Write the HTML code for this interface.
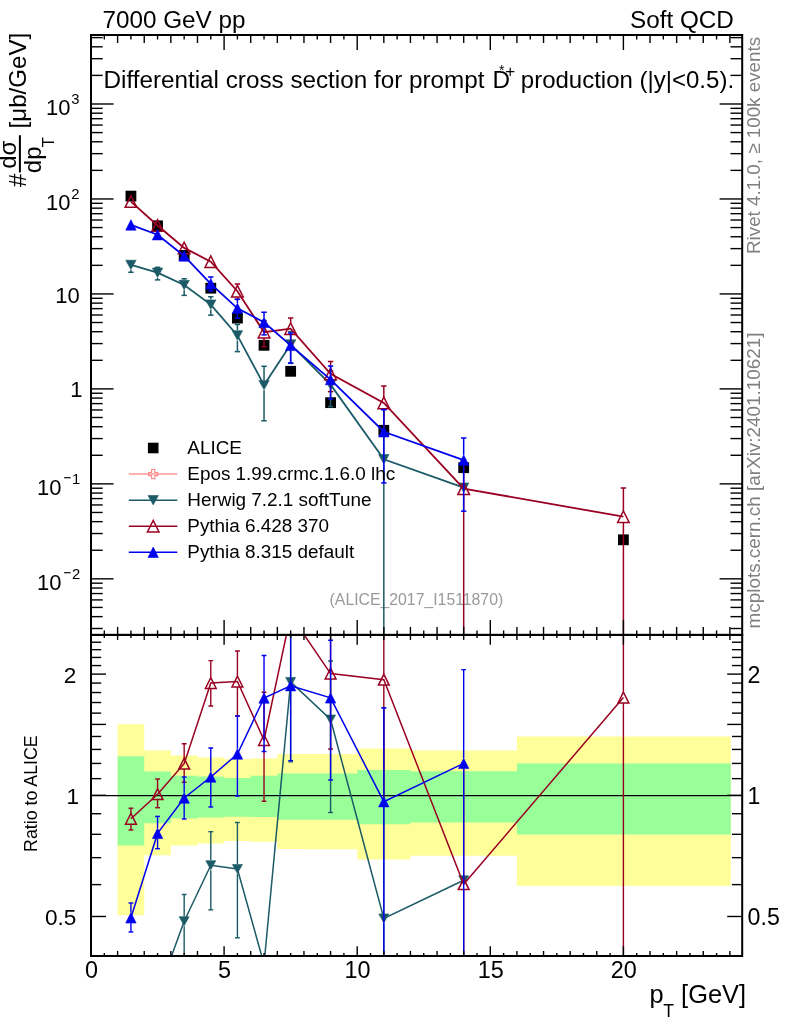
<!DOCTYPE html>
<html><head><meta charset="utf-8"><title>D*+ production plot</title>
<style>html,body{margin:0;padding:0;background:#fff}svg{display:block}</style></head><body>
<svg width="786" height="1024" viewBox="0 0 786 1024" font-family='"Liberation Sans", Arial, Helvetica, sans-serif'>
<defs><clipPath id="cm"><rect x="91.0" y="35.0" width="651.2" height="599.9"/></clipPath><clipPath id="cr"><rect x="91.0" y="634.9" width="651.2" height="321.1"/></clipPath></defs>
<rect width="786" height="1024" fill="#fff"/>
<polygon fill="#ffff99" points="117.62,724.20 144.24,724.20 144.24,750.60 170.86,750.60 170.86,755.40 197.48,755.40 197.48,757.50 224.10,757.50 224.10,759.30 250.72,759.30 250.72,758.40 277.34,758.40 277.34,754.00 303.96,754.00 303.96,754.00 357.20,754.00 357.20,748.60 410.44,748.60 410.44,750.40 516.92,750.40 516.92,736.40 730.78,736.40 730.78,885.70 516.92,885.70 516.92,855.80 410.44,855.80 410.44,859.50 357.20,859.50 357.20,849.20 303.96,849.20 303.96,849.00 277.34,849.00 277.34,841.80 250.72,841.80 250.72,841.00 224.10,841.00 224.10,843.40 197.48,843.40 197.48,845.40 170.86,845.40 170.86,855.20 144.24,855.20 144.24,915.20 117.62,915.20"/>
<polygon fill="#99ff99" points="117.62,756.20 144.24,756.20 144.24,771.40 170.86,771.40 170.86,775.70 197.48,775.70 197.48,776.60 224.10,776.60 224.10,777.90 250.72,777.90 250.72,775.70 277.34,775.70 277.34,773.50 303.96,773.50 303.96,773.50 357.20,773.50 357.20,769.90 410.44,769.90 410.44,771.30 516.92,771.30 516.92,763.40 730.78,763.40 730.78,834.60 516.92,834.60 516.92,822.40 410.44,822.40 410.44,824.30 357.20,824.30 357.20,819.80 303.96,819.80 303.96,819.80 277.34,819.80 277.34,817.00 250.72,817.00 250.72,816.80 224.10,816.80 224.10,817.60 197.48,817.60 197.48,818.60 170.86,818.60 170.86,823.20 144.24,823.20 144.24,845.40 117.62,845.40"/>
<line x1="91.00" y1="795.60" x2="742.20" y2="795.60" stroke="#000" stroke-width="1.3" />
<g clip-path="url(#cr)">
<line x1="184.17" y1="916.20" x2="184.17" y2="894.50" stroke="#1b5a66" stroke-width="1.4" />
<line x1="181.77" y1="894.50" x2="186.57" y2="894.50" stroke="#1b5a66" stroke-width="1.4" />
<line x1="184.17" y1="926.20" x2="184.17" y2="965.00" stroke="#1b5a66" stroke-width="1.4" />
<line x1="181.77" y1="965.00" x2="186.57" y2="965.00" stroke="#1b5a66" stroke-width="1.4" />
<line x1="210.79" y1="860.20" x2="210.79" y2="831.70" stroke="#1b5a66" stroke-width="1.4" />
<line x1="208.39" y1="831.70" x2="213.19" y2="831.70" stroke="#1b5a66" stroke-width="1.4" />
<line x1="210.79" y1="870.20" x2="210.79" y2="909.80" stroke="#1b5a66" stroke-width="1.4" />
<line x1="208.39" y1="909.80" x2="213.19" y2="909.80" stroke="#1b5a66" stroke-width="1.4" />
<line x1="237.41" y1="864.00" x2="237.41" y2="822.50" stroke="#1b5a66" stroke-width="1.4" />
<line x1="235.01" y1="822.50" x2="239.81" y2="822.50" stroke="#1b5a66" stroke-width="1.4" />
<line x1="237.41" y1="874.00" x2="237.41" y2="937.80" stroke="#1b5a66" stroke-width="1.4" />
<line x1="235.01" y1="937.80" x2="239.81" y2="937.80" stroke="#1b5a66" stroke-width="1.4" />
<line x1="290.65" y1="676.90" x2="290.65" y2="627.22" stroke="#1b5a66" stroke-width="1.4" />
<line x1="288.25" y1="627.22" x2="293.05" y2="627.22" stroke="#1b5a66" stroke-width="1.4" />
<line x1="290.65" y1="686.90" x2="290.65" y2="761.90" stroke="#1b5a66" stroke-width="1.4" />
<line x1="288.25" y1="761.90" x2="293.05" y2="761.90" stroke="#1b5a66" stroke-width="1.4" />
<line x1="330.58" y1="714.50" x2="330.58" y2="661.00" stroke="#1b5a66" stroke-width="1.4" />
<line x1="328.18" y1="661.00" x2="332.98" y2="661.00" stroke="#1b5a66" stroke-width="1.4" />
<line x1="330.58" y1="724.50" x2="330.58" y2="812.50" stroke="#1b5a66" stroke-width="1.4" />
<line x1="328.18" y1="812.50" x2="332.98" y2="812.50" stroke="#1b5a66" stroke-width="1.4" />
<line x1="383.82" y1="913.40" x2="383.82" y2="707.85" stroke="#1b5a66" stroke-width="1.4" />
<line x1="381.42" y1="707.85" x2="386.22" y2="707.85" stroke="#1b5a66" stroke-width="1.4" />
<line x1="383.82" y1="923.40" x2="383.82" y2="5000.00" stroke="#1b5a66" stroke-width="1.4" />
<line x1="381.42" y1="5000.00" x2="386.22" y2="5000.00" stroke="#1b5a66" stroke-width="1.4" />
<polyline fill="none" stroke="#1b5a66" stroke-width="1.5" points="130.93,1087.26 157.55,994.42 184.17,921.20 210.79,865.20 237.41,869.00 264.03,964.32 290.65,681.90 330.58,719.50 383.82,918.40 463.68,880.30"/>
<polygon points="125.93,1082.76 135.93,1082.76 130.93,1091.76" fill="#1b5a66" stroke="#1b5a66" stroke-width="0.6"/>
<polygon points="152.55,989.92 162.55,989.92 157.55,998.92" fill="#1b5a66" stroke="#1b5a66" stroke-width="0.6"/>
<polygon points="179.17,916.70 189.17,916.70 184.17,925.70" fill="#1b5a66" stroke="#1b5a66" stroke-width="0.6"/>
<polygon points="205.79,860.70 215.79,860.70 210.79,869.70" fill="#1b5a66" stroke="#1b5a66" stroke-width="0.6"/>
<polygon points="232.41,864.50 242.41,864.50 237.41,873.50" fill="#1b5a66" stroke="#1b5a66" stroke-width="0.6"/>
<polygon points="259.03,959.82 269.03,959.82 264.03,968.82" fill="#1b5a66" stroke="#1b5a66" stroke-width="0.6"/>
<polygon points="285.65,677.40 295.65,677.40 290.65,686.40" fill="#1b5a66" stroke="#1b5a66" stroke-width="0.6"/>
<polygon points="325.58,715.00 335.58,715.00 330.58,724.00" fill="#1b5a66" stroke="#1b5a66" stroke-width="0.6"/>
<polygon points="378.82,913.90 388.82,913.90 383.82,922.90" fill="#1b5a66" stroke="#1b5a66" stroke-width="0.6"/>
<polygon points="458.68,875.80 468.68,875.80 463.68,884.80" fill="#1b5a66" stroke="#1b5a66" stroke-width="0.6"/>
</g>
<g clip-path="url(#cr)">
<line x1="130.93" y1="813.40" x2="130.93" y2="808.20" stroke="#990022" stroke-width="1.4" />
<line x1="128.53" y1="808.20" x2="133.33" y2="808.20" stroke="#990022" stroke-width="1.4" />
<line x1="130.93" y1="824.20" x2="130.93" y2="830.00" stroke="#990022" stroke-width="1.4" />
<line x1="128.53" y1="830.00" x2="133.33" y2="830.00" stroke="#990022" stroke-width="1.4" />
<line x1="157.55" y1="788.80" x2="157.55" y2="779.00" stroke="#990022" stroke-width="1.4" />
<line x1="155.15" y1="779.00" x2="159.95" y2="779.00" stroke="#990022" stroke-width="1.4" />
<line x1="157.55" y1="799.60" x2="157.55" y2="807.70" stroke="#990022" stroke-width="1.4" />
<line x1="155.15" y1="807.70" x2="159.95" y2="807.70" stroke="#990022" stroke-width="1.4" />
<line x1="184.17" y1="758.30" x2="184.17" y2="743.80" stroke="#990022" stroke-width="1.4" />
<line x1="181.77" y1="743.80" x2="186.57" y2="743.80" stroke="#990022" stroke-width="1.4" />
<line x1="184.17" y1="769.10" x2="184.17" y2="782.30" stroke="#990022" stroke-width="1.4" />
<line x1="181.77" y1="782.30" x2="186.57" y2="782.30" stroke="#990022" stroke-width="1.4" />
<line x1="210.79" y1="677.60" x2="210.79" y2="660.60" stroke="#990022" stroke-width="1.4" />
<line x1="208.39" y1="660.60" x2="213.19" y2="660.60" stroke="#990022" stroke-width="1.4" />
<line x1="210.79" y1="688.40" x2="210.79" y2="706.00" stroke="#990022" stroke-width="1.4" />
<line x1="208.39" y1="706.00" x2="213.19" y2="706.00" stroke="#990022" stroke-width="1.4" />
<line x1="237.41" y1="676.10" x2="237.41" y2="651.00" stroke="#990022" stroke-width="1.4" />
<line x1="235.01" y1="651.00" x2="239.81" y2="651.00" stroke="#990022" stroke-width="1.4" />
<line x1="237.41" y1="686.90" x2="237.41" y2="716.00" stroke="#990022" stroke-width="1.4" />
<line x1="235.01" y1="716.00" x2="239.81" y2="716.00" stroke="#990022" stroke-width="1.4" />
<line x1="264.03" y1="734.60" x2="264.03" y2="692.30" stroke="#990022" stroke-width="1.4" />
<line x1="261.63" y1="692.30" x2="266.43" y2="692.30" stroke="#990022" stroke-width="1.4" />
<line x1="264.03" y1="745.40" x2="264.03" y2="801.30" stroke="#990022" stroke-width="1.4" />
<line x1="261.63" y1="801.30" x2="266.43" y2="801.30" stroke="#990022" stroke-width="1.4" />
<line x1="330.58" y1="668.20" x2="330.58" y2="621.09" stroke="#990022" stroke-width="1.4" />
<line x1="328.18" y1="621.09" x2="332.98" y2="621.09" stroke="#990022" stroke-width="1.4" />
<line x1="330.58" y1="679.00" x2="330.58" y2="749.00" stroke="#990022" stroke-width="1.4" />
<line x1="328.18" y1="749.00" x2="332.98" y2="749.00" stroke="#990022" stroke-width="1.4" />
<line x1="383.82" y1="674.30" x2="383.82" y2="607.62" stroke="#990022" stroke-width="1.4" />
<line x1="381.42" y1="607.62" x2="386.22" y2="607.62" stroke="#990022" stroke-width="1.4" />
<line x1="383.82" y1="685.10" x2="383.82" y2="804.50" stroke="#990022" stroke-width="1.4" />
<line x1="381.42" y1="804.50" x2="386.22" y2="804.50" stroke="#990022" stroke-width="1.4" />
<line x1="463.68" y1="878.80" x2="463.68" y2="764.32" stroke="#990022" stroke-width="1.4" />
<line x1="461.28" y1="764.32" x2="466.08" y2="764.32" stroke="#990022" stroke-width="1.4" />
<line x1="463.68" y1="889.60" x2="463.68" y2="1618.51" stroke="#990022" stroke-width="1.4" />
<line x1="461.28" y1="1618.51" x2="466.08" y2="1618.51" stroke="#990022" stroke-width="1.4" />
<line x1="623.40" y1="692.20" x2="623.40" y2="575.97" stroke="#990022" stroke-width="1.4" />
<line x1="621.00" y1="575.97" x2="625.80" y2="575.97" stroke="#990022" stroke-width="1.4" />
<line x1="623.40" y1="703.00" x2="623.40" y2="5000.00" stroke="#990022" stroke-width="1.4" />
<line x1="621.00" y1="5000.00" x2="625.80" y2="5000.00" stroke="#990022" stroke-width="1.4" />
<polyline fill="none" stroke="#990022" stroke-width="1.5" points="130.93,818.80 157.55,794.20 184.17,763.70 210.79,683.00 237.41,681.50 264.03,740.00 290.65,615.01 330.58,673.60 383.82,679.70 463.68,884.20 623.40,697.60"/>
<polygon points="125.53,824.20 136.33,824.20 130.93,813.40" fill="none" stroke="#990022" stroke-width="1.5" stroke-linejoin="miter"/>
<polygon points="152.15,799.60 162.95,799.60 157.55,788.80" fill="none" stroke="#990022" stroke-width="1.5" stroke-linejoin="miter"/>
<polygon points="178.77,769.10 189.57,769.10 184.17,758.30" fill="none" stroke="#990022" stroke-width="1.5" stroke-linejoin="miter"/>
<polygon points="205.39,688.40 216.19,688.40 210.79,677.60" fill="none" stroke="#990022" stroke-width="1.5" stroke-linejoin="miter"/>
<polygon points="232.01,686.90 242.81,686.90 237.41,676.10" fill="none" stroke="#990022" stroke-width="1.5" stroke-linejoin="miter"/>
<polygon points="258.63,745.40 269.43,745.40 264.03,734.60" fill="none" stroke="#990022" stroke-width="1.5" stroke-linejoin="miter"/>
<polygon points="285.25,620.41 296.05,620.41 290.65,609.61" fill="none" stroke="#990022" stroke-width="1.5" stroke-linejoin="miter"/>
<polygon points="325.18,679.00 335.98,679.00 330.58,668.20" fill="none" stroke="#990022" stroke-width="1.5" stroke-linejoin="miter"/>
<polygon points="378.42,685.10 389.22,685.10 383.82,674.30" fill="none" stroke="#990022" stroke-width="1.5" stroke-linejoin="miter"/>
<polygon points="458.28,889.60 469.08,889.60 463.68,878.80" fill="none" stroke="#990022" stroke-width="1.5" stroke-linejoin="miter"/>
<polygon points="618.00,703.00 628.80,703.00 623.40,692.20" fill="none" stroke="#990022" stroke-width="1.5" stroke-linejoin="miter"/>
</g>
<g clip-path="url(#cr)">
<line x1="130.93" y1="912.60" x2="130.93" y2="903.00" stroke="#0000ee" stroke-width="1.4" />
<line x1="128.53" y1="903.00" x2="133.33" y2="903.00" stroke="#0000ee" stroke-width="1.4" />
<line x1="130.93" y1="923.00" x2="130.93" y2="932.00" stroke="#0000ee" stroke-width="1.4" />
<line x1="128.53" y1="932.00" x2="133.33" y2="932.00" stroke="#0000ee" stroke-width="1.4" />
<line x1="157.55" y1="828.20" x2="157.55" y2="816.40" stroke="#0000ee" stroke-width="1.4" />
<line x1="155.15" y1="816.40" x2="159.95" y2="816.40" stroke="#0000ee" stroke-width="1.4" />
<line x1="157.55" y1="838.60" x2="157.55" y2="848.70" stroke="#0000ee" stroke-width="1.4" />
<line x1="155.15" y1="848.70" x2="159.95" y2="848.70" stroke="#0000ee" stroke-width="1.4" />
<line x1="184.17" y1="792.80" x2="184.17" y2="777.00" stroke="#0000ee" stroke-width="1.4" />
<line x1="181.77" y1="777.00" x2="186.57" y2="777.00" stroke="#0000ee" stroke-width="1.4" />
<line x1="184.17" y1="803.20" x2="184.17" y2="819.00" stroke="#0000ee" stroke-width="1.4" />
<line x1="181.77" y1="819.00" x2="186.57" y2="819.00" stroke="#0000ee" stroke-width="1.4" />
<line x1="210.79" y1="771.80" x2="210.79" y2="748.00" stroke="#0000ee" stroke-width="1.4" />
<line x1="208.39" y1="748.00" x2="213.19" y2="748.00" stroke="#0000ee" stroke-width="1.4" />
<line x1="210.79" y1="782.20" x2="210.79" y2="807.00" stroke="#0000ee" stroke-width="1.4" />
<line x1="208.39" y1="807.00" x2="213.19" y2="807.00" stroke="#0000ee" stroke-width="1.4" />
<line x1="237.41" y1="748.80" x2="237.41" y2="716.00" stroke="#0000ee" stroke-width="1.4" />
<line x1="235.01" y1="716.00" x2="239.81" y2="716.00" stroke="#0000ee" stroke-width="1.4" />
<line x1="237.41" y1="759.20" x2="237.41" y2="796.00" stroke="#0000ee" stroke-width="1.4" />
<line x1="235.01" y1="796.00" x2="239.81" y2="796.00" stroke="#0000ee" stroke-width="1.4" />
<line x1="264.03" y1="692.80" x2="264.03" y2="655.50" stroke="#0000ee" stroke-width="1.4" />
<line x1="261.63" y1="655.50" x2="266.43" y2="655.50" stroke="#0000ee" stroke-width="1.4" />
<line x1="264.03" y1="703.20" x2="264.03" y2="751.50" stroke="#0000ee" stroke-width="1.4" />
<line x1="261.63" y1="751.50" x2="266.43" y2="751.50" stroke="#0000ee" stroke-width="1.4" />
<line x1="290.65" y1="680.50" x2="290.65" y2="633.43" stroke="#0000ee" stroke-width="1.4" />
<line x1="288.25" y1="633.43" x2="293.05" y2="633.43" stroke="#0000ee" stroke-width="1.4" />
<line x1="290.65" y1="690.90" x2="290.65" y2="760.60" stroke="#0000ee" stroke-width="1.4" />
<line x1="288.25" y1="760.60" x2="293.05" y2="760.60" stroke="#0000ee" stroke-width="1.4" />
<line x1="330.58" y1="692.70" x2="330.58" y2="640.30" stroke="#0000ee" stroke-width="1.4" />
<line x1="328.18" y1="640.30" x2="332.98" y2="640.30" stroke="#0000ee" stroke-width="1.4" />
<line x1="330.58" y1="703.10" x2="330.58" y2="780.00" stroke="#0000ee" stroke-width="1.4" />
<line x1="328.18" y1="780.00" x2="332.98" y2="780.00" stroke="#0000ee" stroke-width="1.4" />
<line x1="383.82" y1="796.50" x2="383.82" y2="707.80" stroke="#0000ee" stroke-width="1.4" />
<line x1="381.42" y1="707.80" x2="386.22" y2="707.80" stroke="#0000ee" stroke-width="1.4" />
<line x1="383.82" y1="806.90" x2="383.82" y2="1018.70" stroke="#0000ee" stroke-width="1.4" />
<line x1="381.42" y1="1018.70" x2="386.22" y2="1018.70" stroke="#0000ee" stroke-width="1.4" />
<line x1="463.68" y1="758.20" x2="463.68" y2="669.60" stroke="#0000ee" stroke-width="1.4" />
<line x1="461.28" y1="669.60" x2="466.08" y2="669.60" stroke="#0000ee" stroke-width="1.4" />
<line x1="463.68" y1="768.60" x2="463.68" y2="979.81" stroke="#0000ee" stroke-width="1.4" />
<line x1="461.28" y1="979.81" x2="466.08" y2="979.81" stroke="#0000ee" stroke-width="1.4" />
<polyline fill="none" stroke="#0000ee" stroke-width="1.5" points="130.93,917.80 157.55,833.40 184.17,798.00 210.79,777.00 237.41,754.00 264.03,698.00 290.65,685.70 330.58,697.90 383.82,801.70 463.68,763.40"/>
<polygon points="125.73,923.00 136.13,923.00 130.93,912.60" fill="#0000ee" stroke="#0000ee" stroke-width="0.6" stroke-linejoin="miter"/>
<polygon points="152.35,838.60 162.75,838.60 157.55,828.20" fill="#0000ee" stroke="#0000ee" stroke-width="0.6" stroke-linejoin="miter"/>
<polygon points="178.97,803.20 189.37,803.20 184.17,792.80" fill="#0000ee" stroke="#0000ee" stroke-width="0.6" stroke-linejoin="miter"/>
<polygon points="205.59,782.20 215.99,782.20 210.79,771.80" fill="#0000ee" stroke="#0000ee" stroke-width="0.6" stroke-linejoin="miter"/>
<polygon points="232.21,759.20 242.61,759.20 237.41,748.80" fill="#0000ee" stroke="#0000ee" stroke-width="0.6" stroke-linejoin="miter"/>
<polygon points="258.83,703.20 269.23,703.20 264.03,692.80" fill="#0000ee" stroke="#0000ee" stroke-width="0.6" stroke-linejoin="miter"/>
<polygon points="285.45,690.90 295.85,690.90 290.65,680.50" fill="#0000ee" stroke="#0000ee" stroke-width="0.6" stroke-linejoin="miter"/>
<polygon points="325.38,703.10 335.78,703.10 330.58,692.70" fill="#0000ee" stroke="#0000ee" stroke-width="0.6" stroke-linejoin="miter"/>
<polygon points="378.62,806.90 389.02,806.90 383.82,796.50" fill="#0000ee" stroke="#0000ee" stroke-width="0.6" stroke-linejoin="miter"/>
<polygon points="458.48,768.60 468.88,768.60 463.68,758.20" fill="#0000ee" stroke="#0000ee" stroke-width="0.6" stroke-linejoin="miter"/>
</g>
<text x="416.40" y="604.60" font-size="15.8" text-anchor="middle" fill="#999" >(ALICE_2017_I1511870)</text>
<rect x="125.53" y="190.70" width="10.80" height="10.80" fill="#000"/>
<rect x="152.15" y="220.40" width="10.80" height="10.80" fill="#000"/>
<rect x="178.77" y="250.00" width="10.80" height="10.80" fill="#000"/>
<rect x="205.39" y="282.80" width="10.80" height="10.80" fill="#000"/>
<rect x="232.01" y="312.70" width="10.80" height="10.80" fill="#000"/>
<rect x="258.63" y="339.90" width="10.80" height="10.80" fill="#000"/>
<rect x="285.25" y="365.90" width="10.80" height="10.80" fill="#000"/>
<rect x="325.18" y="397.25" width="10.80" height="10.80" fill="#000"/>
<rect x="378.42" y="424.90" width="10.80" height="10.80" fill="#000"/>
<rect x="458.28" y="462.30" width="10.80" height="10.80" fill="#000"/>
<rect x="618.00" y="534.40" width="10.80" height="10.80" fill="#000"/>
<g clip-path="url(#cm)">
<line x1="130.93" y1="270.10" x2="130.93" y2="272.30" stroke="#1b5a66" stroke-width="1.5" />
<line x1="128.23" y1="272.30" x2="133.63" y2="272.30" stroke="#1b5a66" stroke-width="1.5" />
<line x1="157.55" y1="267.50" x2="157.55" y2="267.30" stroke="#1b5a66" stroke-width="1.5" />
<line x1="154.85" y1="267.30" x2="160.25" y2="267.30" stroke="#1b5a66" stroke-width="1.5" />
<line x1="157.55" y1="277.90" x2="157.55" y2="279.90" stroke="#1b5a66" stroke-width="1.5" />
<line x1="154.85" y1="279.90" x2="160.25" y2="279.90" stroke="#1b5a66" stroke-width="1.5" />
<line x1="184.17" y1="279.83" x2="184.17" y2="278.73" stroke="#1b5a66" stroke-width="1.5" />
<line x1="181.47" y1="278.73" x2="186.87" y2="278.73" stroke="#1b5a66" stroke-width="1.5" />
<line x1="184.17" y1="290.23" x2="184.17" y2="295.36" stroke="#1b5a66" stroke-width="1.5" />
<line x1="181.47" y1="295.36" x2="186.87" y2="295.36" stroke="#1b5a66" stroke-width="1.5" />
<line x1="210.79" y1="299.42" x2="210.79" y2="296.72" stroke="#1b5a66" stroke-width="1.5" />
<line x1="208.09" y1="296.72" x2="213.49" y2="296.72" stroke="#1b5a66" stroke-width="1.5" />
<line x1="210.79" y1="309.82" x2="210.79" y2="315.14" stroke="#1b5a66" stroke-width="1.5" />
<line x1="208.09" y1="315.14" x2="213.49" y2="315.14" stroke="#1b5a66" stroke-width="1.5" />
<line x1="237.41" y1="330.21" x2="237.41" y2="324.45" stroke="#1b5a66" stroke-width="1.5" />
<line x1="234.71" y1="324.45" x2="240.11" y2="324.45" stroke="#1b5a66" stroke-width="1.5" />
<line x1="237.41" y1="340.61" x2="237.41" y2="351.64" stroke="#1b5a66" stroke-width="1.5" />
<line x1="234.71" y1="351.64" x2="240.11" y2="351.64" stroke="#1b5a66" stroke-width="1.5" />
<line x1="264.03" y1="379.90" x2="264.03" y2="366.30" stroke="#1b5a66" stroke-width="1.5" />
<line x1="261.33" y1="366.30" x2="266.73" y2="366.30" stroke="#1b5a66" stroke-width="1.5" />
<line x1="264.03" y1="390.30" x2="264.03" y2="420.80" stroke="#1b5a66" stroke-width="1.5" />
<line x1="261.33" y1="420.80" x2="266.73" y2="420.80" stroke="#1b5a66" stroke-width="1.5" />
<line x1="290.65" y1="339.28" x2="290.65" y2="331.58" stroke="#1b5a66" stroke-width="1.5" />
<line x1="287.95" y1="331.58" x2="293.35" y2="331.58" stroke="#1b5a66" stroke-width="1.5" />
<line x1="290.65" y1="349.68" x2="290.65" y2="363.35" stroke="#1b5a66" stroke-width="1.5" />
<line x1="287.95" y1="363.35" x2="293.35" y2="363.35" stroke="#1b5a66" stroke-width="1.5" />
<line x1="330.58" y1="379.50" x2="330.58" y2="370.90" stroke="#1b5a66" stroke-width="1.5" />
<line x1="327.88" y1="370.90" x2="333.28" y2="370.90" stroke="#1b5a66" stroke-width="1.5" />
<line x1="330.58" y1="389.90" x2="330.58" y2="406.64" stroke="#1b5a66" stroke-width="1.5" />
<line x1="327.88" y1="406.64" x2="333.28" y2="406.64" stroke="#1b5a66" stroke-width="1.5" />
<line x1="383.82" y1="454.07" x2="383.82" y2="409.60" stroke="#1b5a66" stroke-width="1.5" />
<line x1="381.12" y1="409.60" x2="386.52" y2="409.60" stroke="#1b5a66" stroke-width="1.5" />
<line x1="383.82" y1="464.47" x2="383.82" y2="5000.00" stroke="#1b5a66" stroke-width="1.5" />
<line x1="381.12" y1="5000.00" x2="386.52" y2="5000.00" stroke="#1b5a66" stroke-width="1.5" />
<polyline fill="none" stroke="#1b5a66" stroke-width="1.8" points="130.93,264.90 157.55,272.70 184.17,285.03 210.79,304.62 237.41,335.41 264.03,385.10 290.65,344.48 330.58,384.70 383.82,459.27 463.68,487.68"/>
<polygon points="125.73,260.20 136.13,260.20 130.93,269.60" fill="#1b5a66" stroke="#1b5a66" stroke-width="0.6"/>
<polygon points="152.35,268.00 162.75,268.00 157.55,277.40" fill="#1b5a66" stroke="#1b5a66" stroke-width="0.6"/>
<polygon points="178.97,280.33 189.37,280.33 184.17,289.73" fill="#1b5a66" stroke="#1b5a66" stroke-width="0.6"/>
<polygon points="205.59,299.92 215.99,299.92 210.79,309.32" fill="#1b5a66" stroke="#1b5a66" stroke-width="0.6"/>
<polygon points="232.21,330.71 242.61,330.71 237.41,340.11" fill="#1b5a66" stroke="#1b5a66" stroke-width="0.6"/>
<polygon points="258.83,380.40 269.23,380.40 264.03,389.80" fill="#1b5a66" stroke="#1b5a66" stroke-width="0.6"/>
<polygon points="285.45,339.78 295.85,339.78 290.65,349.18" fill="#1b5a66" stroke="#1b5a66" stroke-width="0.6"/>
<polygon points="325.38,380.00 335.78,380.00 330.58,389.40" fill="#1b5a66" stroke="#1b5a66" stroke-width="0.6"/>
<polygon points="378.62,454.57 389.02,454.57 383.82,463.97" fill="#1b5a66" stroke="#1b5a66" stroke-width="0.6"/>
<polygon points="458.48,482.98 468.88,482.98 463.68,492.38" fill="#1b5a66" stroke="#1b5a66" stroke-width="0.6"/>
</g>
<g clip-path="url(#cm)">
<line x1="237.41" y1="285.38" x2="237.41" y2="283.99" stroke="#990022" stroke-width="1.5" />
<line x1="234.71" y1="283.99" x2="240.11" y2="283.99" stroke="#990022" stroke-width="1.5" />
<line x1="237.41" y1="296.98" x2="237.41" y2="299.32" stroke="#990022" stroke-width="1.5" />
<line x1="234.71" y1="299.32" x2="240.11" y2="299.32" stroke="#990022" stroke-width="1.5" />
<line x1="264.03" y1="326.38" x2="264.03" y2="320.93" stroke="#990022" stroke-width="1.5" />
<line x1="261.33" y1="320.93" x2="266.73" y2="320.93" stroke="#990022" stroke-width="1.5" />
<line x1="264.03" y1="337.98" x2="264.03" y2="346.64" stroke="#990022" stroke-width="1.5" />
<line x1="261.33" y1="346.64" x2="266.73" y2="346.64" stroke="#990022" stroke-width="1.5" />
<line x1="290.65" y1="322.90" x2="290.65" y2="318.00" stroke="#990022" stroke-width="1.5" />
<line x1="287.95" y1="318.00" x2="293.35" y2="318.00" stroke="#990022" stroke-width="1.5" />
<line x1="290.65" y1="334.50" x2="290.65" y2="343.19" stroke="#990022" stroke-width="1.5" />
<line x1="287.95" y1="343.19" x2="293.35" y2="343.19" stroke="#990022" stroke-width="1.5" />
<line x1="330.58" y1="368.07" x2="330.58" y2="361.48" stroke="#990022" stroke-width="1.5" />
<line x1="327.88" y1="361.48" x2="333.28" y2="361.48" stroke="#990022" stroke-width="1.5" />
<line x1="330.58" y1="379.67" x2="330.58" y2="391.66" stroke="#990022" stroke-width="1.5" />
<line x1="327.88" y1="391.66" x2="333.28" y2="391.66" stroke="#990022" stroke-width="1.5" />
<line x1="383.82" y1="397.16" x2="383.82" y2="385.96" stroke="#990022" stroke-width="1.5" />
<line x1="381.12" y1="385.96" x2="386.52" y2="385.96" stroke="#990022" stroke-width="1.5" />
<line x1="383.82" y1="408.76" x2="383.82" y2="432.40" stroke="#990022" stroke-width="1.5" />
<line x1="381.12" y1="432.40" x2="386.52" y2="432.40" stroke="#990022" stroke-width="1.5" />
<line x1="463.68" y1="482.80" x2="463.68" y2="460.32" stroke="#990022" stroke-width="1.5" />
<line x1="460.98" y1="460.32" x2="466.38" y2="460.32" stroke="#990022" stroke-width="1.5" />
<line x1="463.68" y1="494.40" x2="463.68" y2="661.82" stroke="#990022" stroke-width="1.5" />
<line x1="460.98" y1="661.82" x2="466.38" y2="661.82" stroke="#990022" stroke-width="1.5" />
<line x1="623.40" y1="510.88" x2="623.40" y2="487.99" stroke="#990022" stroke-width="1.5" />
<line x1="620.70" y1="487.99" x2="626.10" y2="487.99" stroke="#990022" stroke-width="1.5" />
<line x1="623.40" y1="522.48" x2="623.40" y2="5000.00" stroke="#990022" stroke-width="1.5" />
<line x1="620.70" y1="5000.00" x2="626.10" y2="5000.00" stroke="#990022" stroke-width="1.5" />
<polyline fill="none" stroke="#990022" stroke-width="1.8" points="130.93,201.57 157.55,225.47 184.17,247.88 210.79,261.64 237.41,291.18 264.03,332.18 290.65,328.70 330.58,373.87 383.82,402.96 463.68,488.60 623.40,516.68"/>
<polygon points="125.13,207.37 136.73,207.37 130.93,195.77" fill="none" stroke="#990022" stroke-width="1.5" stroke-linejoin="miter"/>
<polygon points="151.75,231.27 163.35,231.27 157.55,219.67" fill="none" stroke="#990022" stroke-width="1.5" stroke-linejoin="miter"/>
<polygon points="178.37,253.68 189.97,253.68 184.17,242.08" fill="none" stroke="#990022" stroke-width="1.5" stroke-linejoin="miter"/>
<polygon points="204.99,267.44 216.59,267.44 210.79,255.84" fill="none" stroke="#990022" stroke-width="1.5" stroke-linejoin="miter"/>
<polygon points="231.61,296.98 243.21,296.98 237.41,285.38" fill="none" stroke="#990022" stroke-width="1.5" stroke-linejoin="miter"/>
<polygon points="258.23,337.98 269.83,337.98 264.03,326.38" fill="none" stroke="#990022" stroke-width="1.5" stroke-linejoin="miter"/>
<polygon points="284.85,334.50 296.45,334.50 290.65,322.90" fill="none" stroke="#990022" stroke-width="1.5" stroke-linejoin="miter"/>
<polygon points="324.78,379.67 336.38,379.67 330.58,368.07" fill="none" stroke="#990022" stroke-width="1.5" stroke-linejoin="miter"/>
<polygon points="378.02,408.76 389.62,408.76 383.82,397.16" fill="none" stroke="#990022" stroke-width="1.5" stroke-linejoin="miter"/>
<polygon points="457.88,494.40 469.48,494.40 463.68,482.80" fill="none" stroke="#990022" stroke-width="1.5" stroke-linejoin="miter"/>
<polygon points="617.60,522.48 629.20,522.48 623.40,510.88" fill="none" stroke="#990022" stroke-width="1.5" stroke-linejoin="miter"/>
</g>
<g clip-path="url(#cm)">
<line x1="210.79" y1="278.61" x2="210.79" y2="276.97" stroke="#0000ee" stroke-width="1.5" />
<line x1="208.09" y1="276.97" x2="213.49" y2="276.97" stroke="#0000ee" stroke-width="1.5" />
<line x1="210.79" y1="289.01" x2="210.79" y2="290.89" stroke="#0000ee" stroke-width="1.5" />
<line x1="208.09" y1="290.89" x2="213.49" y2="290.89" stroke="#0000ee" stroke-width="1.5" />
<line x1="237.41" y1="303.09" x2="237.41" y2="299.32" stroke="#0000ee" stroke-width="1.5" />
<line x1="234.71" y1="299.32" x2="240.11" y2="299.32" stroke="#0000ee" stroke-width="1.5" />
<line x1="237.41" y1="313.49" x2="237.41" y2="318.19" stroke="#0000ee" stroke-width="1.5" />
<line x1="234.71" y1="318.19" x2="240.11" y2="318.19" stroke="#0000ee" stroke-width="1.5" />
<line x1="264.03" y1="317.08" x2="264.03" y2="312.25" stroke="#0000ee" stroke-width="1.5" />
<line x1="261.33" y1="312.25" x2="266.73" y2="312.25" stroke="#0000ee" stroke-width="1.5" />
<line x1="264.03" y1="327.48" x2="264.03" y2="334.90" stroke="#0000ee" stroke-width="1.5" />
<line x1="261.33" y1="334.90" x2="266.73" y2="334.90" stroke="#0000ee" stroke-width="1.5" />
<line x1="290.65" y1="340.18" x2="290.65" y2="333.05" stroke="#0000ee" stroke-width="1.5" />
<line x1="287.95" y1="333.05" x2="293.35" y2="333.05" stroke="#0000ee" stroke-width="1.5" />
<line x1="290.65" y1="350.58" x2="290.65" y2="363.04" stroke="#0000ee" stroke-width="1.5" />
<line x1="287.95" y1="363.04" x2="293.35" y2="363.04" stroke="#0000ee" stroke-width="1.5" />
<line x1="330.58" y1="374.40" x2="330.58" y2="366.02" stroke="#0000ee" stroke-width="1.5" />
<line x1="327.88" y1="366.02" x2="333.28" y2="366.02" stroke="#0000ee" stroke-width="1.5" />
<line x1="330.58" y1="384.80" x2="330.58" y2="398.97" stroke="#0000ee" stroke-width="1.5" />
<line x1="327.88" y1="398.97" x2="333.28" y2="398.97" stroke="#0000ee" stroke-width="1.5" />
<line x1="383.82" y1="426.54" x2="383.82" y2="409.59" stroke="#0000ee" stroke-width="1.5" />
<line x1="381.12" y1="409.59" x2="386.52" y2="409.59" stroke="#0000ee" stroke-width="1.5" />
<line x1="383.82" y1="436.94" x2="383.82" y2="482.93" stroke="#0000ee" stroke-width="1.5" />
<line x1="381.12" y1="482.93" x2="386.52" y2="482.93" stroke="#0000ee" stroke-width="1.5" />
<line x1="463.68" y1="454.90" x2="463.68" y2="437.98" stroke="#0000ee" stroke-width="1.5" />
<line x1="460.98" y1="437.98" x2="466.38" y2="437.98" stroke="#0000ee" stroke-width="1.5" />
<line x1="463.68" y1="465.30" x2="463.68" y2="511.15" stroke="#0000ee" stroke-width="1.5" />
<line x1="460.98" y1="511.15" x2="466.38" y2="511.15" stroke="#0000ee" stroke-width="1.5" />
<polyline fill="none" stroke="#0000ee" stroke-width="1.8" points="130.93,224.93 157.55,234.72 184.17,255.97 210.79,283.81 237.41,308.29 264.03,322.28 290.65,345.38 330.58,379.60 383.82,431.74 463.68,460.10"/>
<polygon points="125.73,230.13 136.13,230.13 130.93,219.73" fill="#0000ee" stroke="#0000ee" stroke-width="0.6" stroke-linejoin="miter"/>
<polygon points="152.35,239.92 162.75,239.92 157.55,229.52" fill="#0000ee" stroke="#0000ee" stroke-width="0.6" stroke-linejoin="miter"/>
<polygon points="178.97,261.17 189.37,261.17 184.17,250.77" fill="#0000ee" stroke="#0000ee" stroke-width="0.6" stroke-linejoin="miter"/>
<polygon points="205.59,289.01 215.99,289.01 210.79,278.61" fill="#0000ee" stroke="#0000ee" stroke-width="0.6" stroke-linejoin="miter"/>
<polygon points="232.21,313.49 242.61,313.49 237.41,303.09" fill="#0000ee" stroke="#0000ee" stroke-width="0.6" stroke-linejoin="miter"/>
<polygon points="258.83,327.48 269.23,327.48 264.03,317.08" fill="#0000ee" stroke="#0000ee" stroke-width="0.6" stroke-linejoin="miter"/>
<polygon points="285.45,350.58 295.85,350.58 290.65,340.18" fill="#0000ee" stroke="#0000ee" stroke-width="0.6" stroke-linejoin="miter"/>
<polygon points="325.38,384.80 335.78,384.80 330.58,374.40" fill="#0000ee" stroke="#0000ee" stroke-width="0.6" stroke-linejoin="miter"/>
<polygon points="378.62,436.94 389.02,436.94 383.82,426.54" fill="#0000ee" stroke="#0000ee" stroke-width="0.6" stroke-linejoin="miter"/>
<polygon points="458.48,465.30 468.88,465.30 463.68,454.90" fill="#0000ee" stroke="#0000ee" stroke-width="0.6" stroke-linejoin="miter"/>
</g>
<rect x="91.0" y="35.0" width="651.2" height="599.9" fill="none" stroke="#000" stroke-width="2"/>
<rect x="91.0" y="634.9" width="651.2" height="321.1" fill="none" stroke="#000" stroke-width="2"/>
<line x1="104.31" y1="35.00" x2="104.31" y2="39.50" stroke="#000" stroke-width="1.4" />
<line x1="104.31" y1="634.90" x2="104.31" y2="630.40" stroke="#000" stroke-width="1.4" />
<line x1="104.31" y1="634.90" x2="104.31" y2="637.90" stroke="#000" stroke-width="1.4" />
<line x1="104.31" y1="956.00" x2="104.31" y2="953.00" stroke="#000" stroke-width="1.4" />
<line x1="117.62" y1="35.00" x2="117.62" y2="43.00" stroke="#000" stroke-width="1.4" />
<line x1="117.62" y1="634.90" x2="117.62" y2="626.90" stroke="#000" stroke-width="1.4" />
<line x1="117.62" y1="634.90" x2="117.62" y2="639.90" stroke="#000" stroke-width="1.4" />
<line x1="117.62" y1="956.00" x2="117.62" y2="951.00" stroke="#000" stroke-width="1.4" />
<line x1="130.93" y1="35.00" x2="130.93" y2="39.50" stroke="#000" stroke-width="1.4" />
<line x1="130.93" y1="634.90" x2="130.93" y2="630.40" stroke="#000" stroke-width="1.4" />
<line x1="130.93" y1="634.90" x2="130.93" y2="637.90" stroke="#000" stroke-width="1.4" />
<line x1="130.93" y1="956.00" x2="130.93" y2="953.00" stroke="#000" stroke-width="1.4" />
<line x1="144.24" y1="35.00" x2="144.24" y2="43.00" stroke="#000" stroke-width="1.4" />
<line x1="144.24" y1="634.90" x2="144.24" y2="626.90" stroke="#000" stroke-width="1.4" />
<line x1="144.24" y1="634.90" x2="144.24" y2="639.90" stroke="#000" stroke-width="1.4" />
<line x1="144.24" y1="956.00" x2="144.24" y2="951.00" stroke="#000" stroke-width="1.4" />
<line x1="157.55" y1="35.00" x2="157.55" y2="39.50" stroke="#000" stroke-width="1.4" />
<line x1="157.55" y1="634.90" x2="157.55" y2="630.40" stroke="#000" stroke-width="1.4" />
<line x1="157.55" y1="634.90" x2="157.55" y2="637.90" stroke="#000" stroke-width="1.4" />
<line x1="157.55" y1="956.00" x2="157.55" y2="953.00" stroke="#000" stroke-width="1.4" />
<line x1="170.86" y1="35.00" x2="170.86" y2="43.00" stroke="#000" stroke-width="1.4" />
<line x1="170.86" y1="634.90" x2="170.86" y2="626.90" stroke="#000" stroke-width="1.4" />
<line x1="170.86" y1="634.90" x2="170.86" y2="639.90" stroke="#000" stroke-width="1.4" />
<line x1="170.86" y1="956.00" x2="170.86" y2="951.00" stroke="#000" stroke-width="1.4" />
<line x1="184.17" y1="35.00" x2="184.17" y2="39.50" stroke="#000" stroke-width="1.4" />
<line x1="184.17" y1="634.90" x2="184.17" y2="630.40" stroke="#000" stroke-width="1.4" />
<line x1="184.17" y1="634.90" x2="184.17" y2="637.90" stroke="#000" stroke-width="1.4" />
<line x1="184.17" y1="956.00" x2="184.17" y2="953.00" stroke="#000" stroke-width="1.4" />
<line x1="197.48" y1="35.00" x2="197.48" y2="43.00" stroke="#000" stroke-width="1.4" />
<line x1="197.48" y1="634.90" x2="197.48" y2="626.90" stroke="#000" stroke-width="1.4" />
<line x1="197.48" y1="634.90" x2="197.48" y2="639.90" stroke="#000" stroke-width="1.4" />
<line x1="197.48" y1="956.00" x2="197.48" y2="951.00" stroke="#000" stroke-width="1.4" />
<line x1="210.79" y1="35.00" x2="210.79" y2="39.50" stroke="#000" stroke-width="1.4" />
<line x1="210.79" y1="634.90" x2="210.79" y2="630.40" stroke="#000" stroke-width="1.4" />
<line x1="210.79" y1="634.90" x2="210.79" y2="637.90" stroke="#000" stroke-width="1.4" />
<line x1="210.79" y1="956.00" x2="210.79" y2="953.00" stroke="#000" stroke-width="1.4" />
<line x1="224.10" y1="35.00" x2="224.10" y2="50.00" stroke="#000" stroke-width="1.4" />
<line x1="224.10" y1="634.90" x2="224.10" y2="619.90" stroke="#000" stroke-width="1.4" />
<line x1="224.10" y1="634.90" x2="224.10" y2="644.70" stroke="#000" stroke-width="1.4" />
<line x1="224.10" y1="956.00" x2="224.10" y2="946.20" stroke="#000" stroke-width="1.4" />
<line x1="237.41" y1="35.00" x2="237.41" y2="39.50" stroke="#000" stroke-width="1.4" />
<line x1="237.41" y1="634.90" x2="237.41" y2="630.40" stroke="#000" stroke-width="1.4" />
<line x1="237.41" y1="634.90" x2="237.41" y2="637.90" stroke="#000" stroke-width="1.4" />
<line x1="237.41" y1="956.00" x2="237.41" y2="953.00" stroke="#000" stroke-width="1.4" />
<line x1="250.72" y1="35.00" x2="250.72" y2="43.00" stroke="#000" stroke-width="1.4" />
<line x1="250.72" y1="634.90" x2="250.72" y2="626.90" stroke="#000" stroke-width="1.4" />
<line x1="250.72" y1="634.90" x2="250.72" y2="639.90" stroke="#000" stroke-width="1.4" />
<line x1="250.72" y1="956.00" x2="250.72" y2="951.00" stroke="#000" stroke-width="1.4" />
<line x1="264.03" y1="35.00" x2="264.03" y2="39.50" stroke="#000" stroke-width="1.4" />
<line x1="264.03" y1="634.90" x2="264.03" y2="630.40" stroke="#000" stroke-width="1.4" />
<line x1="264.03" y1="634.90" x2="264.03" y2="637.90" stroke="#000" stroke-width="1.4" />
<line x1="264.03" y1="956.00" x2="264.03" y2="953.00" stroke="#000" stroke-width="1.4" />
<line x1="277.34" y1="35.00" x2="277.34" y2="43.00" stroke="#000" stroke-width="1.4" />
<line x1="277.34" y1="634.90" x2="277.34" y2="626.90" stroke="#000" stroke-width="1.4" />
<line x1="277.34" y1="634.90" x2="277.34" y2="639.90" stroke="#000" stroke-width="1.4" />
<line x1="277.34" y1="956.00" x2="277.34" y2="951.00" stroke="#000" stroke-width="1.4" />
<line x1="290.65" y1="35.00" x2="290.65" y2="39.50" stroke="#000" stroke-width="1.4" />
<line x1="290.65" y1="634.90" x2="290.65" y2="630.40" stroke="#000" stroke-width="1.4" />
<line x1="290.65" y1="634.90" x2="290.65" y2="637.90" stroke="#000" stroke-width="1.4" />
<line x1="290.65" y1="956.00" x2="290.65" y2="953.00" stroke="#000" stroke-width="1.4" />
<line x1="303.96" y1="35.00" x2="303.96" y2="43.00" stroke="#000" stroke-width="1.4" />
<line x1="303.96" y1="634.90" x2="303.96" y2="626.90" stroke="#000" stroke-width="1.4" />
<line x1="303.96" y1="634.90" x2="303.96" y2="639.90" stroke="#000" stroke-width="1.4" />
<line x1="303.96" y1="956.00" x2="303.96" y2="951.00" stroke="#000" stroke-width="1.4" />
<line x1="317.27" y1="35.00" x2="317.27" y2="39.50" stroke="#000" stroke-width="1.4" />
<line x1="317.27" y1="634.90" x2="317.27" y2="630.40" stroke="#000" stroke-width="1.4" />
<line x1="317.27" y1="634.90" x2="317.27" y2="637.90" stroke="#000" stroke-width="1.4" />
<line x1="317.27" y1="956.00" x2="317.27" y2="953.00" stroke="#000" stroke-width="1.4" />
<line x1="330.58" y1="35.00" x2="330.58" y2="43.00" stroke="#000" stroke-width="1.4" />
<line x1="330.58" y1="634.90" x2="330.58" y2="626.90" stroke="#000" stroke-width="1.4" />
<line x1="330.58" y1="634.90" x2="330.58" y2="639.90" stroke="#000" stroke-width="1.4" />
<line x1="330.58" y1="956.00" x2="330.58" y2="951.00" stroke="#000" stroke-width="1.4" />
<line x1="343.89" y1="35.00" x2="343.89" y2="39.50" stroke="#000" stroke-width="1.4" />
<line x1="343.89" y1="634.90" x2="343.89" y2="630.40" stroke="#000" stroke-width="1.4" />
<line x1="343.89" y1="634.90" x2="343.89" y2="637.90" stroke="#000" stroke-width="1.4" />
<line x1="343.89" y1="956.00" x2="343.89" y2="953.00" stroke="#000" stroke-width="1.4" />
<line x1="357.20" y1="35.00" x2="357.20" y2="50.00" stroke="#000" stroke-width="1.4" />
<line x1="357.20" y1="634.90" x2="357.20" y2="619.90" stroke="#000" stroke-width="1.4" />
<line x1="357.20" y1="634.90" x2="357.20" y2="644.70" stroke="#000" stroke-width="1.4" />
<line x1="357.20" y1="956.00" x2="357.20" y2="946.20" stroke="#000" stroke-width="1.4" />
<line x1="370.51" y1="35.00" x2="370.51" y2="39.50" stroke="#000" stroke-width="1.4" />
<line x1="370.51" y1="634.90" x2="370.51" y2="630.40" stroke="#000" stroke-width="1.4" />
<line x1="370.51" y1="634.90" x2="370.51" y2="637.90" stroke="#000" stroke-width="1.4" />
<line x1="370.51" y1="956.00" x2="370.51" y2="953.00" stroke="#000" stroke-width="1.4" />
<line x1="383.82" y1="35.00" x2="383.82" y2="43.00" stroke="#000" stroke-width="1.4" />
<line x1="383.82" y1="634.90" x2="383.82" y2="626.90" stroke="#000" stroke-width="1.4" />
<line x1="383.82" y1="634.90" x2="383.82" y2="639.90" stroke="#000" stroke-width="1.4" />
<line x1="383.82" y1="956.00" x2="383.82" y2="951.00" stroke="#000" stroke-width="1.4" />
<line x1="397.13" y1="35.00" x2="397.13" y2="39.50" stroke="#000" stroke-width="1.4" />
<line x1="397.13" y1="634.90" x2="397.13" y2="630.40" stroke="#000" stroke-width="1.4" />
<line x1="397.13" y1="634.90" x2="397.13" y2="637.90" stroke="#000" stroke-width="1.4" />
<line x1="397.13" y1="956.00" x2="397.13" y2="953.00" stroke="#000" stroke-width="1.4" />
<line x1="410.44" y1="35.00" x2="410.44" y2="43.00" stroke="#000" stroke-width="1.4" />
<line x1="410.44" y1="634.90" x2="410.44" y2="626.90" stroke="#000" stroke-width="1.4" />
<line x1="410.44" y1="634.90" x2="410.44" y2="639.90" stroke="#000" stroke-width="1.4" />
<line x1="410.44" y1="956.00" x2="410.44" y2="951.00" stroke="#000" stroke-width="1.4" />
<line x1="423.75" y1="35.00" x2="423.75" y2="39.50" stroke="#000" stroke-width="1.4" />
<line x1="423.75" y1="634.90" x2="423.75" y2="630.40" stroke="#000" stroke-width="1.4" />
<line x1="423.75" y1="634.90" x2="423.75" y2="637.90" stroke="#000" stroke-width="1.4" />
<line x1="423.75" y1="956.00" x2="423.75" y2="953.00" stroke="#000" stroke-width="1.4" />
<line x1="437.06" y1="35.00" x2="437.06" y2="43.00" stroke="#000" stroke-width="1.4" />
<line x1="437.06" y1="634.90" x2="437.06" y2="626.90" stroke="#000" stroke-width="1.4" />
<line x1="437.06" y1="634.90" x2="437.06" y2="639.90" stroke="#000" stroke-width="1.4" />
<line x1="437.06" y1="956.00" x2="437.06" y2="951.00" stroke="#000" stroke-width="1.4" />
<line x1="450.37" y1="35.00" x2="450.37" y2="39.50" stroke="#000" stroke-width="1.4" />
<line x1="450.37" y1="634.90" x2="450.37" y2="630.40" stroke="#000" stroke-width="1.4" />
<line x1="450.37" y1="634.90" x2="450.37" y2="637.90" stroke="#000" stroke-width="1.4" />
<line x1="450.37" y1="956.00" x2="450.37" y2="953.00" stroke="#000" stroke-width="1.4" />
<line x1="463.68" y1="35.00" x2="463.68" y2="43.00" stroke="#000" stroke-width="1.4" />
<line x1="463.68" y1="634.90" x2="463.68" y2="626.90" stroke="#000" stroke-width="1.4" />
<line x1="463.68" y1="634.90" x2="463.68" y2="639.90" stroke="#000" stroke-width="1.4" />
<line x1="463.68" y1="956.00" x2="463.68" y2="951.00" stroke="#000" stroke-width="1.4" />
<line x1="476.99" y1="35.00" x2="476.99" y2="39.50" stroke="#000" stroke-width="1.4" />
<line x1="476.99" y1="634.90" x2="476.99" y2="630.40" stroke="#000" stroke-width="1.4" />
<line x1="476.99" y1="634.90" x2="476.99" y2="637.90" stroke="#000" stroke-width="1.4" />
<line x1="476.99" y1="956.00" x2="476.99" y2="953.00" stroke="#000" stroke-width="1.4" />
<line x1="490.30" y1="35.00" x2="490.30" y2="50.00" stroke="#000" stroke-width="1.4" />
<line x1="490.30" y1="634.90" x2="490.30" y2="619.90" stroke="#000" stroke-width="1.4" />
<line x1="490.30" y1="634.90" x2="490.30" y2="644.70" stroke="#000" stroke-width="1.4" />
<line x1="490.30" y1="956.00" x2="490.30" y2="946.20" stroke="#000" stroke-width="1.4" />
<line x1="503.61" y1="35.00" x2="503.61" y2="39.50" stroke="#000" stroke-width="1.4" />
<line x1="503.61" y1="634.90" x2="503.61" y2="630.40" stroke="#000" stroke-width="1.4" />
<line x1="503.61" y1="634.90" x2="503.61" y2="637.90" stroke="#000" stroke-width="1.4" />
<line x1="503.61" y1="956.00" x2="503.61" y2="953.00" stroke="#000" stroke-width="1.4" />
<line x1="516.92" y1="35.00" x2="516.92" y2="43.00" stroke="#000" stroke-width="1.4" />
<line x1="516.92" y1="634.90" x2="516.92" y2="626.90" stroke="#000" stroke-width="1.4" />
<line x1="516.92" y1="634.90" x2="516.92" y2="639.90" stroke="#000" stroke-width="1.4" />
<line x1="516.92" y1="956.00" x2="516.92" y2="951.00" stroke="#000" stroke-width="1.4" />
<line x1="530.23" y1="35.00" x2="530.23" y2="39.50" stroke="#000" stroke-width="1.4" />
<line x1="530.23" y1="634.90" x2="530.23" y2="630.40" stroke="#000" stroke-width="1.4" />
<line x1="530.23" y1="634.90" x2="530.23" y2="637.90" stroke="#000" stroke-width="1.4" />
<line x1="530.23" y1="956.00" x2="530.23" y2="953.00" stroke="#000" stroke-width="1.4" />
<line x1="543.54" y1="35.00" x2="543.54" y2="43.00" stroke="#000" stroke-width="1.4" />
<line x1="543.54" y1="634.90" x2="543.54" y2="626.90" stroke="#000" stroke-width="1.4" />
<line x1="543.54" y1="634.90" x2="543.54" y2="639.90" stroke="#000" stroke-width="1.4" />
<line x1="543.54" y1="956.00" x2="543.54" y2="951.00" stroke="#000" stroke-width="1.4" />
<line x1="556.85" y1="35.00" x2="556.85" y2="39.50" stroke="#000" stroke-width="1.4" />
<line x1="556.85" y1="634.90" x2="556.85" y2="630.40" stroke="#000" stroke-width="1.4" />
<line x1="556.85" y1="634.90" x2="556.85" y2="637.90" stroke="#000" stroke-width="1.4" />
<line x1="556.85" y1="956.00" x2="556.85" y2="953.00" stroke="#000" stroke-width="1.4" />
<line x1="570.16" y1="35.00" x2="570.16" y2="43.00" stroke="#000" stroke-width="1.4" />
<line x1="570.16" y1="634.90" x2="570.16" y2="626.90" stroke="#000" stroke-width="1.4" />
<line x1="570.16" y1="634.90" x2="570.16" y2="639.90" stroke="#000" stroke-width="1.4" />
<line x1="570.16" y1="956.00" x2="570.16" y2="951.00" stroke="#000" stroke-width="1.4" />
<line x1="583.47" y1="35.00" x2="583.47" y2="39.50" stroke="#000" stroke-width="1.4" />
<line x1="583.47" y1="634.90" x2="583.47" y2="630.40" stroke="#000" stroke-width="1.4" />
<line x1="583.47" y1="634.90" x2="583.47" y2="637.90" stroke="#000" stroke-width="1.4" />
<line x1="583.47" y1="956.00" x2="583.47" y2="953.00" stroke="#000" stroke-width="1.4" />
<line x1="596.78" y1="35.00" x2="596.78" y2="43.00" stroke="#000" stroke-width="1.4" />
<line x1="596.78" y1="634.90" x2="596.78" y2="626.90" stroke="#000" stroke-width="1.4" />
<line x1="596.78" y1="634.90" x2="596.78" y2="639.90" stroke="#000" stroke-width="1.4" />
<line x1="596.78" y1="956.00" x2="596.78" y2="951.00" stroke="#000" stroke-width="1.4" />
<line x1="610.09" y1="35.00" x2="610.09" y2="39.50" stroke="#000" stroke-width="1.4" />
<line x1="610.09" y1="634.90" x2="610.09" y2="630.40" stroke="#000" stroke-width="1.4" />
<line x1="610.09" y1="634.90" x2="610.09" y2="637.90" stroke="#000" stroke-width="1.4" />
<line x1="610.09" y1="956.00" x2="610.09" y2="953.00" stroke="#000" stroke-width="1.4" />
<line x1="623.40" y1="35.00" x2="623.40" y2="50.00" stroke="#000" stroke-width="1.4" />
<line x1="623.40" y1="634.90" x2="623.40" y2="619.90" stroke="#000" stroke-width="1.4" />
<line x1="623.40" y1="634.90" x2="623.40" y2="644.70" stroke="#000" stroke-width="1.4" />
<line x1="623.40" y1="956.00" x2="623.40" y2="946.20" stroke="#000" stroke-width="1.4" />
<line x1="636.71" y1="35.00" x2="636.71" y2="39.50" stroke="#000" stroke-width="1.4" />
<line x1="636.71" y1="634.90" x2="636.71" y2="630.40" stroke="#000" stroke-width="1.4" />
<line x1="636.71" y1="634.90" x2="636.71" y2="637.90" stroke="#000" stroke-width="1.4" />
<line x1="636.71" y1="956.00" x2="636.71" y2="953.00" stroke="#000" stroke-width="1.4" />
<line x1="650.02" y1="35.00" x2="650.02" y2="43.00" stroke="#000" stroke-width="1.4" />
<line x1="650.02" y1="634.90" x2="650.02" y2="626.90" stroke="#000" stroke-width="1.4" />
<line x1="650.02" y1="634.90" x2="650.02" y2="639.90" stroke="#000" stroke-width="1.4" />
<line x1="650.02" y1="956.00" x2="650.02" y2="951.00" stroke="#000" stroke-width="1.4" />
<line x1="663.33" y1="35.00" x2="663.33" y2="39.50" stroke="#000" stroke-width="1.4" />
<line x1="663.33" y1="634.90" x2="663.33" y2="630.40" stroke="#000" stroke-width="1.4" />
<line x1="663.33" y1="634.90" x2="663.33" y2="637.90" stroke="#000" stroke-width="1.4" />
<line x1="663.33" y1="956.00" x2="663.33" y2="953.00" stroke="#000" stroke-width="1.4" />
<line x1="676.64" y1="35.00" x2="676.64" y2="43.00" stroke="#000" stroke-width="1.4" />
<line x1="676.64" y1="634.90" x2="676.64" y2="626.90" stroke="#000" stroke-width="1.4" />
<line x1="676.64" y1="634.90" x2="676.64" y2="639.90" stroke="#000" stroke-width="1.4" />
<line x1="676.64" y1="956.00" x2="676.64" y2="951.00" stroke="#000" stroke-width="1.4" />
<line x1="689.95" y1="35.00" x2="689.95" y2="39.50" stroke="#000" stroke-width="1.4" />
<line x1="689.95" y1="634.90" x2="689.95" y2="630.40" stroke="#000" stroke-width="1.4" />
<line x1="689.95" y1="634.90" x2="689.95" y2="637.90" stroke="#000" stroke-width="1.4" />
<line x1="689.95" y1="956.00" x2="689.95" y2="953.00" stroke="#000" stroke-width="1.4" />
<line x1="703.26" y1="35.00" x2="703.26" y2="43.00" stroke="#000" stroke-width="1.4" />
<line x1="703.26" y1="634.90" x2="703.26" y2="626.90" stroke="#000" stroke-width="1.4" />
<line x1="703.26" y1="634.90" x2="703.26" y2="639.90" stroke="#000" stroke-width="1.4" />
<line x1="703.26" y1="956.00" x2="703.26" y2="951.00" stroke="#000" stroke-width="1.4" />
<line x1="716.57" y1="35.00" x2="716.57" y2="39.50" stroke="#000" stroke-width="1.4" />
<line x1="716.57" y1="634.90" x2="716.57" y2="630.40" stroke="#000" stroke-width="1.4" />
<line x1="716.57" y1="634.90" x2="716.57" y2="637.90" stroke="#000" stroke-width="1.4" />
<line x1="716.57" y1="956.00" x2="716.57" y2="953.00" stroke="#000" stroke-width="1.4" />
<line x1="729.88" y1="35.00" x2="729.88" y2="43.00" stroke="#000" stroke-width="1.4" />
<line x1="729.88" y1="634.90" x2="729.88" y2="626.90" stroke="#000" stroke-width="1.4" />
<line x1="729.88" y1="634.90" x2="729.88" y2="639.90" stroke="#000" stroke-width="1.4" />
<line x1="729.88" y1="956.00" x2="729.88" y2="951.00" stroke="#000" stroke-width="1.4" />
<line x1="91.00" y1="628.50" x2="102.70" y2="628.50" stroke="#000" stroke-width="1.4" />
<line x1="742.20" y1="628.50" x2="730.50" y2="628.50" stroke="#000" stroke-width="1.4" />
<line x1="91.00" y1="616.63" x2="102.70" y2="616.63" stroke="#000" stroke-width="1.4" />
<line x1="742.20" y1="616.63" x2="730.50" y2="616.63" stroke="#000" stroke-width="1.4" />
<line x1="91.00" y1="607.43" x2="102.70" y2="607.43" stroke="#000" stroke-width="1.4" />
<line x1="742.20" y1="607.43" x2="730.50" y2="607.43" stroke="#000" stroke-width="1.4" />
<line x1="91.00" y1="599.91" x2="102.70" y2="599.91" stroke="#000" stroke-width="1.4" />
<line x1="742.20" y1="599.91" x2="730.50" y2="599.91" stroke="#000" stroke-width="1.4" />
<line x1="91.00" y1="593.55" x2="102.70" y2="593.55" stroke="#000" stroke-width="1.4" />
<line x1="742.20" y1="593.55" x2="730.50" y2="593.55" stroke="#000" stroke-width="1.4" />
<line x1="91.00" y1="588.04" x2="102.70" y2="588.04" stroke="#000" stroke-width="1.4" />
<line x1="742.20" y1="588.04" x2="730.50" y2="588.04" stroke="#000" stroke-width="1.4" />
<line x1="91.00" y1="583.19" x2="102.70" y2="583.19" stroke="#000" stroke-width="1.4" />
<line x1="742.20" y1="583.19" x2="730.50" y2="583.19" stroke="#000" stroke-width="1.4" />
<line x1="91.00" y1="578.84" x2="113.60" y2="578.84" stroke="#000" stroke-width="1.4" />
<line x1="742.20" y1="578.84" x2="719.60" y2="578.84" stroke="#000" stroke-width="1.4" />
<line x1="91.00" y1="550.25" x2="102.70" y2="550.25" stroke="#000" stroke-width="1.4" />
<line x1="742.20" y1="550.25" x2="730.50" y2="550.25" stroke="#000" stroke-width="1.4" />
<line x1="91.00" y1="533.53" x2="102.70" y2="533.53" stroke="#000" stroke-width="1.4" />
<line x1="742.20" y1="533.53" x2="730.50" y2="533.53" stroke="#000" stroke-width="1.4" />
<line x1="91.00" y1="521.66" x2="102.70" y2="521.66" stroke="#000" stroke-width="1.4" />
<line x1="742.20" y1="521.66" x2="730.50" y2="521.66" stroke="#000" stroke-width="1.4" />
<line x1="91.00" y1="512.46" x2="102.70" y2="512.46" stroke="#000" stroke-width="1.4" />
<line x1="742.20" y1="512.46" x2="730.50" y2="512.46" stroke="#000" stroke-width="1.4" />
<line x1="91.00" y1="504.94" x2="102.70" y2="504.94" stroke="#000" stroke-width="1.4" />
<line x1="742.20" y1="504.94" x2="730.50" y2="504.94" stroke="#000" stroke-width="1.4" />
<line x1="91.00" y1="498.58" x2="102.70" y2="498.58" stroke="#000" stroke-width="1.4" />
<line x1="742.20" y1="498.58" x2="730.50" y2="498.58" stroke="#000" stroke-width="1.4" />
<line x1="91.00" y1="493.07" x2="102.70" y2="493.07" stroke="#000" stroke-width="1.4" />
<line x1="742.20" y1="493.07" x2="730.50" y2="493.07" stroke="#000" stroke-width="1.4" />
<line x1="91.00" y1="488.22" x2="102.70" y2="488.22" stroke="#000" stroke-width="1.4" />
<line x1="742.20" y1="488.22" x2="730.50" y2="488.22" stroke="#000" stroke-width="1.4" />
<line x1="91.00" y1="483.87" x2="113.60" y2="483.87" stroke="#000" stroke-width="1.4" />
<line x1="742.20" y1="483.87" x2="719.60" y2="483.87" stroke="#000" stroke-width="1.4" />
<line x1="91.00" y1="455.28" x2="102.70" y2="455.28" stroke="#000" stroke-width="1.4" />
<line x1="742.20" y1="455.28" x2="730.50" y2="455.28" stroke="#000" stroke-width="1.4" />
<line x1="91.00" y1="438.56" x2="102.70" y2="438.56" stroke="#000" stroke-width="1.4" />
<line x1="742.20" y1="438.56" x2="730.50" y2="438.56" stroke="#000" stroke-width="1.4" />
<line x1="91.00" y1="426.69" x2="102.70" y2="426.69" stroke="#000" stroke-width="1.4" />
<line x1="742.20" y1="426.69" x2="730.50" y2="426.69" stroke="#000" stroke-width="1.4" />
<line x1="91.00" y1="417.49" x2="102.70" y2="417.49" stroke="#000" stroke-width="1.4" />
<line x1="742.20" y1="417.49" x2="730.50" y2="417.49" stroke="#000" stroke-width="1.4" />
<line x1="91.00" y1="409.97" x2="102.70" y2="409.97" stroke="#000" stroke-width="1.4" />
<line x1="742.20" y1="409.97" x2="730.50" y2="409.97" stroke="#000" stroke-width="1.4" />
<line x1="91.00" y1="403.61" x2="102.70" y2="403.61" stroke="#000" stroke-width="1.4" />
<line x1="742.20" y1="403.61" x2="730.50" y2="403.61" stroke="#000" stroke-width="1.4" />
<line x1="91.00" y1="398.10" x2="102.70" y2="398.10" stroke="#000" stroke-width="1.4" />
<line x1="742.20" y1="398.10" x2="730.50" y2="398.10" stroke="#000" stroke-width="1.4" />
<line x1="91.00" y1="393.25" x2="102.70" y2="393.25" stroke="#000" stroke-width="1.4" />
<line x1="742.20" y1="393.25" x2="730.50" y2="393.25" stroke="#000" stroke-width="1.4" />
<line x1="91.00" y1="388.90" x2="113.60" y2="388.90" stroke="#000" stroke-width="1.4" />
<line x1="742.20" y1="388.90" x2="719.60" y2="388.90" stroke="#000" stroke-width="1.4" />
<line x1="91.00" y1="360.31" x2="102.70" y2="360.31" stroke="#000" stroke-width="1.4" />
<line x1="742.20" y1="360.31" x2="730.50" y2="360.31" stroke="#000" stroke-width="1.4" />
<line x1="91.00" y1="343.59" x2="102.70" y2="343.59" stroke="#000" stroke-width="1.4" />
<line x1="742.20" y1="343.59" x2="730.50" y2="343.59" stroke="#000" stroke-width="1.4" />
<line x1="91.00" y1="331.72" x2="102.70" y2="331.72" stroke="#000" stroke-width="1.4" />
<line x1="742.20" y1="331.72" x2="730.50" y2="331.72" stroke="#000" stroke-width="1.4" />
<line x1="91.00" y1="322.52" x2="102.70" y2="322.52" stroke="#000" stroke-width="1.4" />
<line x1="742.20" y1="322.52" x2="730.50" y2="322.52" stroke="#000" stroke-width="1.4" />
<line x1="91.00" y1="315.00" x2="102.70" y2="315.00" stroke="#000" stroke-width="1.4" />
<line x1="742.20" y1="315.00" x2="730.50" y2="315.00" stroke="#000" stroke-width="1.4" />
<line x1="91.00" y1="308.64" x2="102.70" y2="308.64" stroke="#000" stroke-width="1.4" />
<line x1="742.20" y1="308.64" x2="730.50" y2="308.64" stroke="#000" stroke-width="1.4" />
<line x1="91.00" y1="303.13" x2="102.70" y2="303.13" stroke="#000" stroke-width="1.4" />
<line x1="742.20" y1="303.13" x2="730.50" y2="303.13" stroke="#000" stroke-width="1.4" />
<line x1="91.00" y1="298.28" x2="102.70" y2="298.28" stroke="#000" stroke-width="1.4" />
<line x1="742.20" y1="298.28" x2="730.50" y2="298.28" stroke="#000" stroke-width="1.4" />
<line x1="91.00" y1="293.93" x2="113.60" y2="293.93" stroke="#000" stroke-width="1.4" />
<line x1="742.20" y1="293.93" x2="719.60" y2="293.93" stroke="#000" stroke-width="1.4" />
<line x1="91.00" y1="265.34" x2="102.70" y2="265.34" stroke="#000" stroke-width="1.4" />
<line x1="742.20" y1="265.34" x2="730.50" y2="265.34" stroke="#000" stroke-width="1.4" />
<line x1="91.00" y1="248.62" x2="102.70" y2="248.62" stroke="#000" stroke-width="1.4" />
<line x1="742.20" y1="248.62" x2="730.50" y2="248.62" stroke="#000" stroke-width="1.4" />
<line x1="91.00" y1="236.75" x2="102.70" y2="236.75" stroke="#000" stroke-width="1.4" />
<line x1="742.20" y1="236.75" x2="730.50" y2="236.75" stroke="#000" stroke-width="1.4" />
<line x1="91.00" y1="227.55" x2="102.70" y2="227.55" stroke="#000" stroke-width="1.4" />
<line x1="742.20" y1="227.55" x2="730.50" y2="227.55" stroke="#000" stroke-width="1.4" />
<line x1="91.00" y1="220.03" x2="102.70" y2="220.03" stroke="#000" stroke-width="1.4" />
<line x1="742.20" y1="220.03" x2="730.50" y2="220.03" stroke="#000" stroke-width="1.4" />
<line x1="91.00" y1="213.67" x2="102.70" y2="213.67" stroke="#000" stroke-width="1.4" />
<line x1="742.20" y1="213.67" x2="730.50" y2="213.67" stroke="#000" stroke-width="1.4" />
<line x1="91.00" y1="208.16" x2="102.70" y2="208.16" stroke="#000" stroke-width="1.4" />
<line x1="742.20" y1="208.16" x2="730.50" y2="208.16" stroke="#000" stroke-width="1.4" />
<line x1="91.00" y1="203.31" x2="102.70" y2="203.31" stroke="#000" stroke-width="1.4" />
<line x1="742.20" y1="203.31" x2="730.50" y2="203.31" stroke="#000" stroke-width="1.4" />
<line x1="91.00" y1="198.96" x2="113.60" y2="198.96" stroke="#000" stroke-width="1.4" />
<line x1="742.20" y1="198.96" x2="719.60" y2="198.96" stroke="#000" stroke-width="1.4" />
<line x1="91.00" y1="170.37" x2="102.70" y2="170.37" stroke="#000" stroke-width="1.4" />
<line x1="742.20" y1="170.37" x2="730.50" y2="170.37" stroke="#000" stroke-width="1.4" />
<line x1="91.00" y1="153.65" x2="102.70" y2="153.65" stroke="#000" stroke-width="1.4" />
<line x1="742.20" y1="153.65" x2="730.50" y2="153.65" stroke="#000" stroke-width="1.4" />
<line x1="91.00" y1="141.78" x2="102.70" y2="141.78" stroke="#000" stroke-width="1.4" />
<line x1="742.20" y1="141.78" x2="730.50" y2="141.78" stroke="#000" stroke-width="1.4" />
<line x1="91.00" y1="132.58" x2="102.70" y2="132.58" stroke="#000" stroke-width="1.4" />
<line x1="742.20" y1="132.58" x2="730.50" y2="132.58" stroke="#000" stroke-width="1.4" />
<line x1="91.00" y1="125.06" x2="102.70" y2="125.06" stroke="#000" stroke-width="1.4" />
<line x1="742.20" y1="125.06" x2="730.50" y2="125.06" stroke="#000" stroke-width="1.4" />
<line x1="91.00" y1="118.70" x2="102.70" y2="118.70" stroke="#000" stroke-width="1.4" />
<line x1="742.20" y1="118.70" x2="730.50" y2="118.70" stroke="#000" stroke-width="1.4" />
<line x1="91.00" y1="113.19" x2="102.70" y2="113.19" stroke="#000" stroke-width="1.4" />
<line x1="742.20" y1="113.19" x2="730.50" y2="113.19" stroke="#000" stroke-width="1.4" />
<line x1="91.00" y1="108.34" x2="102.70" y2="108.34" stroke="#000" stroke-width="1.4" />
<line x1="742.20" y1="108.34" x2="730.50" y2="108.34" stroke="#000" stroke-width="1.4" />
<line x1="91.00" y1="103.99" x2="113.60" y2="103.99" stroke="#000" stroke-width="1.4" />
<line x1="742.20" y1="103.99" x2="719.60" y2="103.99" stroke="#000" stroke-width="1.4" />
<line x1="91.00" y1="75.40" x2="102.70" y2="75.40" stroke="#000" stroke-width="1.4" />
<line x1="742.20" y1="75.40" x2="730.50" y2="75.40" stroke="#000" stroke-width="1.4" />
<line x1="91.00" y1="58.68" x2="102.70" y2="58.68" stroke="#000" stroke-width="1.4" />
<line x1="742.20" y1="58.68" x2="730.50" y2="58.68" stroke="#000" stroke-width="1.4" />
<line x1="91.00" y1="46.81" x2="102.70" y2="46.81" stroke="#000" stroke-width="1.4" />
<line x1="742.20" y1="46.81" x2="730.50" y2="46.81" stroke="#000" stroke-width="1.4" />
<line x1="91.00" y1="37.61" x2="102.70" y2="37.61" stroke="#000" stroke-width="1.4" />
<line x1="742.20" y1="37.61" x2="730.50" y2="37.61" stroke="#000" stroke-width="1.4" />
<line x1="91.00" y1="916.49" x2="106.00" y2="916.49" stroke="#000" stroke-width="1.4" />
<line x1="742.20" y1="916.49" x2="727.20" y2="916.49" stroke="#000" stroke-width="1.4" />
<line x1="91.00" y1="884.62" x2="101.20" y2="884.62" stroke="#000" stroke-width="1.4" />
<line x1="742.20" y1="884.62" x2="732.00" y2="884.62" stroke="#000" stroke-width="1.4" />
<line x1="91.00" y1="857.66" x2="101.20" y2="857.66" stroke="#000" stroke-width="1.4" />
<line x1="742.20" y1="857.66" x2="732.00" y2="857.66" stroke="#000" stroke-width="1.4" />
<line x1="91.00" y1="834.32" x2="101.20" y2="834.32" stroke="#000" stroke-width="1.4" />
<line x1="742.20" y1="834.32" x2="732.00" y2="834.32" stroke="#000" stroke-width="1.4" />
<line x1="91.00" y1="813.72" x2="101.20" y2="813.72" stroke="#000" stroke-width="1.4" />
<line x1="742.20" y1="813.72" x2="732.00" y2="813.72" stroke="#000" stroke-width="1.4" />
<line x1="91.00" y1="795.30" x2="106.00" y2="795.30" stroke="#000" stroke-width="1.4" />
<line x1="742.20" y1="795.30" x2="727.20" y2="795.30" stroke="#000" stroke-width="1.4" />
<line x1="91.00" y1="778.64" x2="101.20" y2="778.64" stroke="#000" stroke-width="1.4" />
<line x1="742.20" y1="778.64" x2="732.00" y2="778.64" stroke="#000" stroke-width="1.4" />
<line x1="91.00" y1="763.42" x2="101.20" y2="763.42" stroke="#000" stroke-width="1.4" />
<line x1="742.20" y1="763.42" x2="732.00" y2="763.42" stroke="#000" stroke-width="1.4" />
<line x1="91.00" y1="749.43" x2="101.20" y2="749.43" stroke="#000" stroke-width="1.4" />
<line x1="742.20" y1="749.43" x2="732.00" y2="749.43" stroke="#000" stroke-width="1.4" />
<line x1="91.00" y1="736.47" x2="101.20" y2="736.47" stroke="#000" stroke-width="1.4" />
<line x1="742.20" y1="736.47" x2="732.00" y2="736.47" stroke="#000" stroke-width="1.4" />
<line x1="91.00" y1="724.41" x2="106.00" y2="724.41" stroke="#000" stroke-width="1.4" />
<line x1="742.20" y1="724.41" x2="727.20" y2="724.41" stroke="#000" stroke-width="1.4" />
<line x1="91.00" y1="713.12" x2="101.20" y2="713.12" stroke="#000" stroke-width="1.4" />
<line x1="742.20" y1="713.12" x2="732.00" y2="713.12" stroke="#000" stroke-width="1.4" />
<line x1="91.00" y1="702.52" x2="101.20" y2="702.52" stroke="#000" stroke-width="1.4" />
<line x1="742.20" y1="702.52" x2="732.00" y2="702.52" stroke="#000" stroke-width="1.4" />
<line x1="91.00" y1="692.53" x2="101.20" y2="692.53" stroke="#000" stroke-width="1.4" />
<line x1="742.20" y1="692.53" x2="732.00" y2="692.53" stroke="#000" stroke-width="1.4" />
<line x1="91.00" y1="683.07" x2="101.20" y2="683.07" stroke="#000" stroke-width="1.4" />
<line x1="742.20" y1="683.07" x2="732.00" y2="683.07" stroke="#000" stroke-width="1.4" />
<line x1="91.00" y1="674.11" x2="106.00" y2="674.11" stroke="#000" stroke-width="1.4" />
<line x1="742.20" y1="674.11" x2="727.20" y2="674.11" stroke="#000" stroke-width="1.4" />
<line x1="91.00" y1="665.57" x2="101.20" y2="665.57" stroke="#000" stroke-width="1.4" />
<line x1="742.20" y1="665.57" x2="732.00" y2="665.57" stroke="#000" stroke-width="1.4" />
<line x1="91.00" y1="657.44" x2="101.20" y2="657.44" stroke="#000" stroke-width="1.4" />
<line x1="742.20" y1="657.44" x2="732.00" y2="657.44" stroke="#000" stroke-width="1.4" />
<line x1="91.00" y1="649.67" x2="101.20" y2="649.67" stroke="#000" stroke-width="1.4" />
<line x1="742.20" y1="649.67" x2="732.00" y2="649.67" stroke="#000" stroke-width="1.4" />
<line x1="91.00" y1="642.23" x2="101.20" y2="642.23" stroke="#000" stroke-width="1.4" />
<line x1="742.20" y1="642.23" x2="732.00" y2="642.23" stroke="#000" stroke-width="1.4" />
<text x="70.6" y="114.79" font-size="22" text-anchor="end">10</text>
<text x="71.2" y="104.39" font-size="14.8">3</text>
<text x="70.6" y="209.76" font-size="22" text-anchor="end">10</text>
<text x="71.2" y="199.36" font-size="14.8">2</text>
<text x="61.6" y="494.67" font-size="22" text-anchor="end">10</text>
<text x="63.6" y="481.87" font-size="12.6" stroke="#000" stroke-width="0.3">−</text>
<text x="72.0" y="484.27" font-size="14.8">1</text>
<text x="61.6" y="589.64" font-size="22" text-anchor="end">10</text>
<text x="63.6" y="576.84" font-size="12.6" stroke="#000" stroke-width="0.3">−</text>
<text x="72.0" y="579.24" font-size="14.8">2</text>
<text x="79.70" y="302.93" font-size="22" text-anchor="end" fill="#000" >10</text>
<text x="82.60" y="397.20" font-size="22" text-anchor="end" fill="#000" >1</text>
<text x="747.60" y="682.91" font-size="23.2" text-anchor="start" fill="#000" >2</text>
<text x="76.40" y="683.01" font-size="22.6" text-anchor="end" fill="#000" >2</text>
<text x="747.60" y="804.10" font-size="23.2" text-anchor="start" fill="#000" >1</text>
<text x="79.00" y="804.20" font-size="22.6" text-anchor="end" fill="#000" >1</text>
<text x="747.60" y="925.29" font-size="23.2" text-anchor="start" fill="#000" >0.5</text>
<text x="76.40" y="925.39" font-size="22.6" text-anchor="end" fill="#000" >0.5</text>
<text x="91.40" y="978.00" font-size="23.4" text-anchor="middle" fill="#000" >0</text>
<text x="224.50" y="978.00" font-size="23.4" text-anchor="middle" fill="#000" >5</text>
<text x="357.60" y="978.00" font-size="23.4" text-anchor="middle" fill="#000" >10</text>
<text x="490.70" y="978.00" font-size="23.4" text-anchor="middle" fill="#000" >15</text>
<text x="623.80" y="978.00" font-size="23.4" text-anchor="middle" fill="#000" >20</text>
<text x="102.50" y="28.20" font-size="24.25" text-anchor="start" fill="#000" >7000 GeV pp</text>
<text x="733.80" y="28.20" font-size="24.25" text-anchor="end" fill="#000" >Soft QCD</text>
<text x="103.50" y="88.00" font-size="24.25" text-anchor="start" fill="#000" >Differential cross section for prompt</text>
<text x="492.50" y="88.00" font-size="24.25" text-anchor="start" fill="#000" >D</text>
<text x="501.80" y="74.80" font-size="14" text-anchor="middle" fill="#000" >*</text>
<text x="510.20" y="77.40" font-size="17" text-anchor="middle" fill="#000" >+</text>
<text x="520.80" y="88.00" font-size="24" text-anchor="start" fill="#000" >production (|y|&lt;0.5).</text>
<text x="649.50" y="1003.20" font-size="25.4" text-anchor="start" fill="#000" >p</text>
<text x="663.20" y="1017.20" font-size="17.6" text-anchor="start" fill="#000" >T</text>
<text x="746.00" y="1003.20" font-size="25.4" text-anchor="end" fill="#000" >[GeV]</text>
<text transform="translate(36.6,793.6) rotate(-90)" font-size="17.8" text-anchor="middle">Ratio to ALICE</text>
<g transform="translate(0,0) rotate(-90)">
<text x="-187" y="26" font-size="24">#</text>
<text x="-168.8" y="16.2" font-size="24">dσ</text>
<text x="-173.2" y="40.8" font-size="24">dp</text>
<text x="-147.2" y="54" font-size="16.6">T</text>
<line x1="-172.4" y1="19.9" x2="-135.2" y2="19.9" stroke="#000" stroke-width="2"/>
<text x="-128.4" y="26" font-size="24.1">[μb/GeV]</text>
</g>
<text transform="translate(759.9,254) rotate(-90)" font-size="18.8" fill="#808080">Rivet 4.1.0, ≥ 100k events</text>
<text transform="translate(760.4,628.5) rotate(-90)" font-size="18.9" fill="#808080">mcplots.cern.ch [arXiv:2401.10621]</text>
<rect x="147.90" y="442.70" width="10.60" height="10.60" fill="#000"/>
<line x1="128.80" y1="474.10" x2="177.30" y2="474.10" stroke="#ff9999" stroke-width="1.5" />
<polygon points="151.6,469.5 154.79999999999998,469.5 154.79999999999998,472.5 157.79999999999998,472.5 157.79999999999998,475.70000000000005 154.79999999999998,475.70000000000005 154.79999999999998,478.70000000000005 151.6,478.70000000000005 151.6,475.70000000000005 148.6,475.70000000000005 148.6,472.5 151.6,472.5" fill="none" stroke="#ff8c8c" stroke-width="1.2"/>
<line x1="128.80" y1="500.20" x2="177.30" y2="500.20" stroke="#1b5a66" stroke-width="1.5" />
<polygon points="148.00,495.50 158.40,495.50 153.20,504.90" fill="#1b5a66" stroke="#1b5a66" stroke-width="0.6"/>
<line x1="128.80" y1="526.20" x2="177.30" y2="526.20" stroke="#990022" stroke-width="1.5" />
<polygon points="147.40,532.00 159.00,532.00 153.20,520.40" fill="none" stroke="#990022" stroke-width="1.5" stroke-linejoin="miter"/>
<line x1="128.80" y1="552.30" x2="177.30" y2="552.30" stroke="#0000ee" stroke-width="1.5" />
<polygon points="148.00,557.50 158.40,557.50 153.20,547.10" fill="#0000ee" stroke="#0000ee" stroke-width="0.6" stroke-linejoin="miter"/>
<text x="187.30" y="453.90" font-size="18.9" text-anchor="start" fill="#000" >ALICE</text>
<text x="187.30" y="480.00" font-size="18.9" text-anchor="start" fill="#000" >Epos 1.99.crmc.1.6.0 lhc</text>
<text x="187.30" y="506.10" font-size="18.9" text-anchor="start" fill="#000" >Herwig 7.2.1 softTune</text>
<text x="187.30" y="532.10" font-size="18.9" text-anchor="start" fill="#000" >Pythia 6.428 370</text>
<text x="187.30" y="558.20" font-size="18.9" text-anchor="start" fill="#000" >Pythia 8.315 default</text>
</svg>
</body></html>
